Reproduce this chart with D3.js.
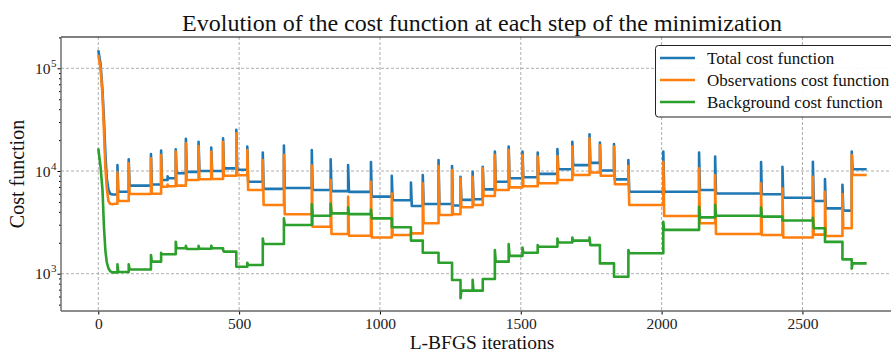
<!DOCTYPE html>
<html>
<head>
<meta charset="utf-8">
<script src="https://cdn.jsdelivr.net/npm/d3@7"></script>
<style>
  body { margin: 0; background: #fff; }
  svg { display: block; }
</style>
</head>
<body>
<div id="caja"></div>
<script>
// descenso inicial (primer bucle externo)
var initIter  = [0, 8, 15, 20, 25, 30, 36, 42, 50, 60];
var initTotal = [150000, 110000, 60000, 32000, 15000, 8500, 6600, 6000, 5900, 5900];
var initObs   = [135000, 100000, 55000, 25000, 11000, 6800, 5100, 4800, 4750, 4800];
var initBkg   = [16600, 11000, 6500, 2900, 1700, 1300, 1130, 1060, 1030, 1030];

// reinicios del bucle externo (iteracion)
var restarts = [68, 108, 187, 223, 246, 275, 311, 356, 401, 443, 490, 529, 584, 659, 758, 825, 887, 968,
  1042, 1110, 1152, 1208, 1256, 1286, 1329, 1365, 1408, 1457, 1506, 1560, 1630, 1683, 1744, 1781, 1831, 1882,
  2006, 2133, 2190, 2353, 2429, 2537, 2580, 2642, 2675];
var lastIter = 2728;

// valor en el pico y en la meseta despues de cada reinicio
var totalPeak = [11400, 13000, 14650, 15800, 8900, 16300, 20600, 19300, 16900, 20800, 25200, 17300, 15100, 17700, 16000, 13000, 11400, 12200,
  9000, 7700, 9140, 12800, 11200, 8800, 9800, 11000, 15500, 17300, 15500, 15100, 16400, 19300, 22800, 18900, 18300, 12800,
  15500, 15100, 13800, 12200, 11000, 12300, 8330, 7330, 15500];
var totalPlat = [6280, 7200, 7400, 8170, 8490, 9500, 9800, 10000, 10000, 10600, 10300, 7870, 6700, 6830, 6530, 6370, 6270, 5630,
  5200, 4560, 4770, 4770, 4620, 5240, 5310, 6630, 7870, 8490, 8700, 9370, 10400, 11400, 12000, 10100, 8290, 6290,
  6290, 6530, 6050, 5940, 5490, 5100, 4330, 4110, 10400];
var obsPeak = [9700, 11900, 13300, 14300, 7400, 15500, 18600, 17500, 15500, 19300, 23300, 16000, 12800, 14300, 11300, 8170, 5630, 7870,
  6050, 2500, 7590, 11200, 10200, 8490, 8800, 10600, 14300, 16000, 14300, 13800, 14000, 17300, 20800, 17900, 17300, 11200,
  12300, 10600, 9140, 7590, 6790, 8800, 6290, 5980, 14300];
var obsPlat = [5100, 5970, 6000, 7030, 7100, 7200, 8170, 8300, 8350, 9000, 9100, 6530, 4670, 3790, 2870, 2440, 2340, 2250,
  2380, 2470, 3100, 3730, 3790, 4440, 4670, 5720, 6530, 6930, 7110, 7590, 8170, 9140, 9660, 8980, 7440, 4670,
  3650, 3100, 2440, 2380, 2250, 2400, 2330, 2770, 9140];
var bkgPeak = [1235, 1235, 1520, 1600, 1545, 2050, 1870, 1870, 1870, 1700, 1170, 1280, 2200, 3460, 4750, 4800, 4400, 4200,
  2830, 2100, 1600, 1280, 869, 576, 870, 887, 1700, 1940, 1800, 1900, 2200, 2250, 2250, 1260, 935, 1700,
  3210, 4490, 4700, 4400, 3300, 3500, 2040, 1380, 1120];
var bkgPlat = [1040, 1100, 1310, 1545, 1545, 1770, 1740, 1750, 1770, 1640, 1170, 1215, 1945, 2980, 3670, 3870, 3800, 3460,
  2830, 2100, 1600, 1280, 869, 684, 684, 887, 1310, 1490, 1600, 1830, 2010, 2100, 1900, 1260, 935, 1580,
  2670, 3540, 3670, 3600, 3300, 2770, 2040, 1380, 1260];

var nombres = ["Total cost function", "Observations cost function", "Background cost function"];
var colores = ["#1f77b4", "#ff7f0e", "#2ca02c"];

var xTicks = [0, 500, 1000, 1500, 2000, 2500];
var yTicks = [1e3, 1e4, 1e5];

var w = 891, h = 351;
var mIzq = 61, mDer = 903, mSup = 37, mInf = 311;
var fuente = "'Liberation Serif', 'DejaVu Serif', serif";

// arma la serie: meseta previa, pico, nueva meseta
function armar(init, pico, meseta) {
  var pts = initIter.map(function(t, i) { return [t, init[i]]; });
  var prev = init[init.length - 1];
  restarts.forEach(function(r, k) {
    pts.push([r, prev]);
    pts.push([r, pico[k]]);
    pts.push([r + 3, meseta[k]]);
    prev = meseta[k];
  });
  pts.push([lastIter, prev]);
  return pts;
}

var series = [
  armar(initTotal, totalPeak, totalPlat),
  armar(initObs, obsPeak, obsPlat),
  armar(initBkg, bkgPeak, bkgPlat)
];

var x = d3.scaleLinear().domain([-132.4, 2857]).range([mIzq, mDer]);
var y = d3.scaleLog().domain([433.4, 201800]).range([mInf, mSup]);

var chart = d3.select('#caja')
  .append('svg')
  .attr('width', w)
  .attr('height', h)
  .style("background", "#fff");

// rejilla
var grid = chart.append("g").attr("stroke", "#999").attr("stroke-width", 0.8).attr("stroke-dasharray", "3,2");
grid.selectAll("line.gx").data(xTicks).enter().append("line")
  .attr("x1", function(d) { return x(d); }).attr("x2", function(d) { return x(d); })
  .attr("y1", mSup).attr("y2", mInf);
grid.selectAll("line.gy").data(yTicks).enter().append("line")
  .attr("y1", function(d) { return y(d); }).attr("y2", function(d) { return y(d); })
  .attr("x1", mIzq).attr("x2", mDer);

// lineas
var linea = d3.line()
  .x(function(d) { return x(d[0]); })
  .y(function(d) { return y(d[1]); });

chart.append("g")
  .selectAll("path")
  .data(series)
  .enter()
  .append("path")
  .attr("d", linea)
  .attr("fill", "none")
  .attr("stroke", function(d, i) { return colores[i]; })
  .attr("stroke-width", 2.6)
  .attr("stroke-linejoin", "round");

// ejes
var ejeX = chart.append("g")
  .attr("transform", "translate(0," + mInf + ")")
  .call(d3.axisBottom(x).tickValues(xTicks).tickSize(3.5).tickPadding(3).tickFormat(d3.format("d")));
ejeX.select(".domain").remove();
ejeX.selectAll("text").attr("font-family", fuente).attr("font-size", "15.5px").attr("fill", "#222");

var minors = [];
[100, 1000, 10000, 100000].forEach(function(b) {
  for (var m = 2; m <= 9; m++) {
    if (b * m > 433.4 && b * m < 201800) minors.push(b * m);
  }
});
var ejeYmin = chart.append("g")
  .attr("transform", "translate(" + mIzq + ",0)")
  .call(d3.axisLeft(y).tickValues(minors).tickSize(2).tickFormat(""));
ejeYmin.select(".domain").remove();

var ejeY = chart.append("g")
  .attr("transform", "translate(" + mIzq + ",0)")
  .call(d3.axisLeft(y).tickValues(yTicks).tickSize(3.5).tickFormat(""));
ejeY.select(".domain").remove();

chart.append("g").selectAll("text")
  .data(yTicks)
  .enter()
  .append("text")
  .attr("x", 50.5)
  .attr("y", function(d) { return y(d) + 5.5; })
  .attr("text-anchor", "end")
  .attr("font-family", fuente)
  .attr("font-size", "15.5px")
  .attr("fill", "#222")
  .text("10");
chart.append("g").selectAll("text")
  .data(yTicks)
  .enter()
  .append("text")
  .attr("x", 51)
  .attr("y", function(d) { return y(d) - 1.5; })
  .attr("font-family", fuente)
  .attr("font-size", "11px")
  .attr("fill", "#222")
  .text(function(d) { return Math.round(Math.log10(d)); });

// marco
chart.append("line").attr("x1", mIzq).attr("x2", mDer).attr("y1", mSup).attr("y2", mSup)
  .attr("stroke", "#000").attr("stroke-width", 1);
chart.append("line").attr("x1", mIzq).attr("x2", mDer).attr("y1", mInf).attr("y2", mInf)
  .attr("stroke", "#666").attr("stroke-width", 1.4);
chart.append("line").attr("x1", mIzq).attr("x2", mIzq).attr("y1", mSup).attr("y2", mInf)
  .attr("stroke", "#666").attr("stroke-width", 1.4);

// titulos
chart.append("text")
  .text("Evolution of the cost function at each step of the minimization")
  .attr("x", (mIzq + mDer) / 2)
  .attr("y", 31)
  .attr("text-anchor", "middle")
  .attr("font-family", fuente)
  .attr("font-size", "24px")
  .attr("fill", "#111");

chart.append("text")
  .text("L-BFGS iterations")
  .attr("x", (mIzq + mDer) / 2)
  .attr("y", 348.5)
  .attr("text-anchor", "middle")
  .attr("font-family", fuente)
  .attr("font-size", "19.5px")
  .attr("fill", "#111");

chart.append("text")
  .text("Cost function")
  .attr("transform", "translate(24," + ((mSup + mInf) / 2) + ") rotate(-90)")
  .attr("text-anchor", "middle")
  .attr("font-family", fuente)
  .attr("font-size", "20px")
  .attr("fill", "#111");

// leyenda
var ley = chart.append("g");
ley.append("rect")
  .attr("x", 655.5).attr("y", 45.5)
  .attr("width", 242).attr("height", 71.5)
  .attr("rx", 3)
  .attr("fill", "#fff").attr("fill-opacity", 0.9)
  .attr("stroke", "#222").attr("stroke-width", 1);
nombres.forEach(function(n, i) {
  var yy = 58 + i * 22;
  ley.append("line")
    .attr("x1", 660).attr("x2", 695).attr("y1", yy).attr("y2", yy)
    .attr("stroke", colores[i]).attr("stroke-width", 2.6);
  ley.append("text")
    .text(n)
    .attr("x", 707).attr("y", yy + 5.5)
    .attr("font-family", fuente)
    .attr("font-size", "17px")
    .attr("fill", "#111");
});
</script>
</body>
</html>
